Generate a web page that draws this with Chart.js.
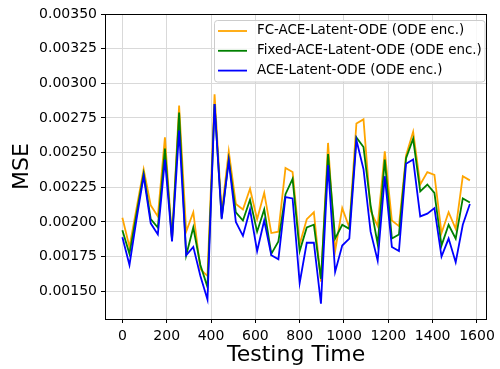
<!DOCTYPE html>
<html>
<head>
<meta charset="utf-8">
<script src="https://cdn.jsdelivr.net/npm/chart.js@4.4.1/dist/chart.umd.min.js"></script>
<style>
  html, body { margin: 0; padding: 0; background: #fff; }
  canvas { display: block; }
</style>
</head>
<body>
<canvas id="mseGrafico" width="500" height="369"></canvas>
<script>
// Tiempos de prueba (eje x)
const testingTime = [0, 32, 64, 96, 128, 160, 192, 224, 256, 288,
  320, 352, 384, 416, 448, 480, 512, 544, 576, 608,
  640, 672, 704, 736, 768, 800, 832, 864, 896, 928,
  960, 992, 1024, 1056, 1088, 1120, 1152, 1184, 1216, 1248,
  1280, 1312, 1344, 1376, 1408, 1440, 1472, 1504, 1536, 1568];

// MSE de cada modelo
const fcAceLatent = [0.00203, 0.00182, 0.00210, 0.00238, 0.00212, 0.00204, 0.00261, 0.00188, 0.00284, 0.00193,
  0.00207, 0.00166, 0.00161, 0.00292, 0.00207, 0.00251, 0.00213, 0.00209, 0.00224, 0.00202,
  0.00221, 0.00192, 0.00193, 0.00239, 0.00236, 0.00184, 0.00202, 0.00207, 0.00157, 0.00257,
  0.00179, 0.00210, 0.00196, 0.00271, 0.00274, 0.00208, 0.00197, 0.00251, 0.00201, 0.00197,
  0.00248, 0.00265, 0.00227, 0.00236, 0.00234, 0.00192, 0.00207, 0.00195, 0.00233, 0.00230];
const fixedAceLatent = [0.00194, 0.00177, 0.00206, 0.00235, 0.00202, 0.00196, 0.00253, 0.00187, 0.00279, 0.00176,
  0.00196, 0.00169, 0.00153, 0.00285, 0.00203, 0.00245, 0.00207, 0.00201, 0.00216, 0.00193,
  0.00209, 0.00177, 0.00186, 0.00220, 0.00231, 0.00179, 0.00196, 0.00198, 0.00159, 0.00249,
  0.00188, 0.00198, 0.00195, 0.00261, 0.00254, 0.00212, 0.00184, 0.00245, 0.00188, 0.00191,
  0.00246, 0.00260, 0.00222, 0.00227, 0.00221, 0.00183, 0.00198, 0.00188, 0.00217, 0.00214];
const aceLatent = [0.00189, 0.00169, 0.00202, 0.00233, 0.00199, 0.00191, 0.00245, 0.00186, 0.00266, 0.00176,
  0.00182, 0.00161, 0.00144, 0.00285, 0.00202, 0.00244, 0.00200, 0.00190, 0.00209, 0.00179,
  0.00201, 0.00176, 0.00173, 0.00218, 0.00217, 0.00156, 0.00185, 0.00185, 0.00141, 0.00241,
  0.00164, 0.00183, 0.00188, 0.00259, 0.00238, 0.00193, 0.00172, 0.00233, 0.00182, 0.00179,
  0.00242, 0.00245, 0.00204, 0.00206, 0.00210, 0.00175, 0.00188, 0.00171, 0.00198, 0.00213];

// Marcas de los ejes
const xTicks = [0, 200, 400, 600, 800, 1000, 1200, 1400, 1600];
const yTicks = [0.0015, 0.00175, 0.002, 0.00225, 0.0025, 0.00275, 0.003, 0.00325, 0.0035];

const fuente = 'DejaVu Sans';
const gris = '#d9d9d9';

function puntos(valores) {
  return valores.map((v, i) => ({ x: testingTime[i], y: v }));
}

// Marco negro y leyenda dentro del área del gráfico
const marcoYLeyenda = {
  id: 'marcoYLeyenda',
  afterDraw(chart) {
    const { ctx, chartArea: a } = chart;
    ctx.save();
    ctx.strokeStyle = '#000';
    ctx.lineWidth = 1;
    ctx.strokeRect(Math.round(a.left) + 0.5, Math.round(a.top) + 0.5,
      Math.round(a.right - a.left) - 1, Math.round(a.bottom - a.top));

    // leyenda
    const x0 = 214.5, y0 = 20.5, w = 270.5, h = 61.5, r = 3;
    ctx.beginPath();
    ctx.roundRect(x0, y0, w, h, r);
    ctx.fillStyle = 'rgba(255,255,255,0.8)';
    ctx.fill();
    ctx.strokeStyle = '#cccccc';
    ctx.stroke();

    ctx.font = '13.4px ' + fuente;
    ctx.textBaseline = 'middle';
    ctx.fillStyle = '#000';
    chart.data.datasets.forEach((ds, i) => {
      const y = 31 + i * 19.8;
      ctx.beginPath();
      ctx.strokeStyle = ds.borderColor;
      ctx.lineWidth = ds.borderWidth;
      ctx.moveTo(218, y);
      ctx.lineTo(247, y);
      ctx.stroke();
      ctx.fillText(ds.label, 257, y);
    });
    ctx.restore();
  }
};

const ctx = document.getElementById('mseGrafico').getContext('2d');

const mseGrafico = new Chart(ctx, {
  type: 'line',
  data: {
    datasets: [
      {
        label: 'FC-ACE-Latent-ODE (ODE enc.)',
        data: puntos(fcAceLatent),
        borderColor: '#FFA500',
        borderWidth: 1.8,
        order: 2
      },
      {
        label: 'Fixed-ACE-Latent-ODE (ODE enc.)',
        data: puntos(fixedAceLatent),
        borderColor: '#008000',
        borderWidth: 1.8,
        order: 1
      },
      {
        label: 'ACE-Latent-ODE (ODE enc.)',
        data: puntos(aceLatent),
        borderColor: '#0000FF',
        borderWidth: 1.8,
        order: 0
      }
    ]
  },
  options: {
    responsive: false,
    animation: false,
    devicePixelRatio: 1,
    layout: { padding: { top: 14, right: 8, left: 0, bottom: 0 } },
    elements: {
      point: { radius: 0 },
      line: { tension: 0, fill: false }
    },
    plugins: {
      legend: { display: false },
      tooltip: { enabled: false }
    },
    scales: {
      x: {
        type: 'linear',
        min: -78.4,
        max: 1646.4,
        afterBuildTicks: s => { s.ticks = xTicks.map(v => ({ value: v })); },
        afterFit: s => { s.height = 50; },
        ticks: {
          callback: v => String(v),
          font: { family: fuente, size: 14 },
          color: '#000',
          padding: 5,
          maxRotation: 0,
          autoSkip: false
        },
        grid: { color: gris, tickColor: '#000', tickLength: 4, lineWidth: 1 },
        border: { display: false },
        title: {
          display: true,
          text: 'Testing Time',
          font: { family: fuente, size: 22 },
          color: '#000',
          padding: { top: 0, bottom: 1 }
        }
      },
      y: {
        min: 0.0013,
        max: 0.0035,
        afterBuildTicks: s => { s.ticks = yTicks.map(v => ({ value: v })); },
        afterFit: s => { s.width = 105; },
        ticks: {
          callback: v => v.toFixed(5),
          font: { family: fuente, size: 14 },
          color: '#000',
          padding: 4
        },
        grid: { color: gris, tickColor: '#000', tickLength: 4, lineWidth: 1 },
        border: { display: false },
        title: {
          display: true,
          text: 'MSE',
          font: { family: fuente, size: 22 },
          color: '#000',
          padding: { top: 9, bottom: 0 }
        }
      }
    }
  },
  plugins: [marcoYLeyenda]
});
</script>
</body>
</html>
